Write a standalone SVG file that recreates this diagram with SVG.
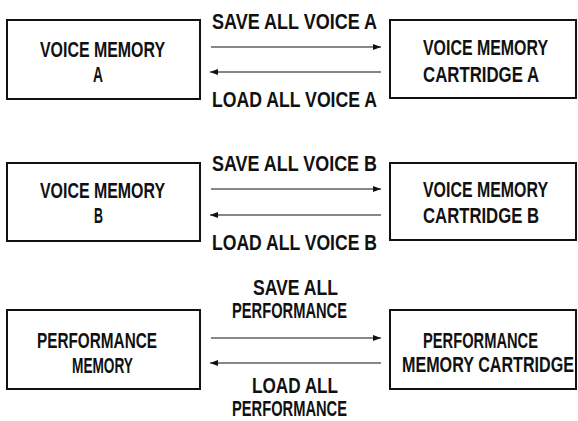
<svg xmlns="http://www.w3.org/2000/svg" width="578" height="421" viewBox="0 0 578 421">
<style>
.box{fill:#fff;stroke:#111;stroke-width:2}
.t{font-family:"Liberation Sans",Arial,sans-serif;font-size:22px;font-weight:bold;fill:#111}
.c{stroke:#111;stroke-width:1.2;fill:none}
</style>
<defs>
<marker id="ah" viewBox="0 0 8 6" refX="8" refY="3" markerWidth="8" markerHeight="6" markerUnits="userSpaceOnUse" orient="auto">
<path d="M0,0 L8,3 L0,6 z" fill="#111"/>
</marker>
</defs>
<rect width="578" height="421" fill="#fff"/>
<g id="voice-memory-a">
<rect class="box" x="7" y="20" width="193" height="79"/>
<text class="t" transform="translate(40,57) scale(0.75,1)" textLength="166.7" lengthAdjust="spacingAndGlyphs">VOICE MEMORY</text>
<text class="t" transform="translate(93,82) scale(0.75,1)" textLength="13.3" lengthAdjust="spacingAndGlyphs">A</text>
</g>
<g id="voice-cartridge-a">
<rect class="box" x="390" y="20" width="186" height="78"/>
<text class="t" transform="translate(423,55) scale(0.75,1)" textLength="166.7" lengthAdjust="spacingAndGlyphs">VOICE MEMORY</text>
<text class="t" transform="translate(423,82) scale(0.75,1)" textLength="154.7" lengthAdjust="spacingAndGlyphs">CARTRIDGE A</text>
</g>
<g id="voice-memory-b">
<rect class="box" x="7" y="163" width="193" height="78"/>
<text class="t" transform="translate(40,198) scale(0.75,1)" textLength="166.7" lengthAdjust="spacingAndGlyphs">VOICE MEMORY</text>
<text class="t" transform="translate(94,223) scale(0.75,1)" textLength="12" lengthAdjust="spacingAndGlyphs">B</text>
</g>
<g id="voice-cartridge-b">
<rect class="box" x="390" y="163" width="186" height="77"/>
<text class="t" transform="translate(423,197) scale(0.75,1)" textLength="166.7" lengthAdjust="spacingAndGlyphs">VOICE MEMORY</text>
<text class="t" transform="translate(423,223) scale(0.75,1)" textLength="154.7" lengthAdjust="spacingAndGlyphs">CARTRIDGE B</text>
</g>
<g id="performance-memory">
<rect class="box" x="7" y="310" width="193" height="79"/>
<text class="t" transform="translate(37,348) scale(0.75,1)" textLength="160" lengthAdjust="spacingAndGlyphs">PERFORMANCE</text>
<text class="t" transform="translate(72,373) scale(0.75,1)" textLength="81.3" lengthAdjust="spacingAndGlyphs">MEMORY</text>
</g>
<g id="performance-cartridge">
<rect class="box" x="390" y="310" width="186" height="79"/>
<text class="t" transform="translate(423,348) scale(0.75,1)" textLength="153.3" lengthAdjust="spacingAndGlyphs">PERFORMANCE</text>
<text class="t" transform="translate(402,372) scale(0.75,1)" textLength="229.3" lengthAdjust="spacingAndGlyphs">MEMORY CARTRIDGE</text>
</g>
<g id="connectors">
<line class="c" x1="211" y1="47" x2="381" y2="47" marker-end="url(#ah)"/>
<line class="c" x1="381" y1="72" x2="210" y2="72" marker-end="url(#ah)"/>
<line class="c" x1="211" y1="189" x2="381" y2="189" marker-end="url(#ah)"/>
<line class="c" x1="381" y1="215" x2="210" y2="215" marker-end="url(#ah)"/>
<line class="c" x1="211" y1="338" x2="381" y2="338" marker-end="url(#ah)"/>
<line class="c" x1="381" y1="363" x2="210" y2="363" marker-end="url(#ah)"/>
<text class="t" transform="translate(212,29) scale(0.75,1)" textLength="220" lengthAdjust="spacingAndGlyphs">SAVE ALL VOICE A</text>
<text class="t" transform="translate(212,107) scale(0.75,1)" textLength="220" lengthAdjust="spacingAndGlyphs">LOAD ALL VOICE A</text>
<text class="t" transform="translate(212,171) scale(0.75,1)" textLength="220" lengthAdjust="spacingAndGlyphs">SAVE ALL VOICE B</text>
<text class="t" transform="translate(212,250) scale(0.75,1)" textLength="220" lengthAdjust="spacingAndGlyphs">LOAD ALL VOICE B</text>
<text class="t" transform="translate(253,295) scale(0.75,1)" textLength="113.3" lengthAdjust="spacingAndGlyphs">SAVE ALL</text>
<text class="t" transform="translate(232,318) scale(0.75,1)" textLength="153.3" lengthAdjust="spacingAndGlyphs">PERFORMANCE</text>
<text class="t" transform="translate(252,393) scale(0.75,1)" textLength="114.7" lengthAdjust="spacingAndGlyphs">LOAD ALL</text>
<text class="t" transform="translate(232,416) scale(0.75,1)" textLength="153.3" lengthAdjust="spacingAndGlyphs">PERFORMANCE</text>
</g>
</svg>
